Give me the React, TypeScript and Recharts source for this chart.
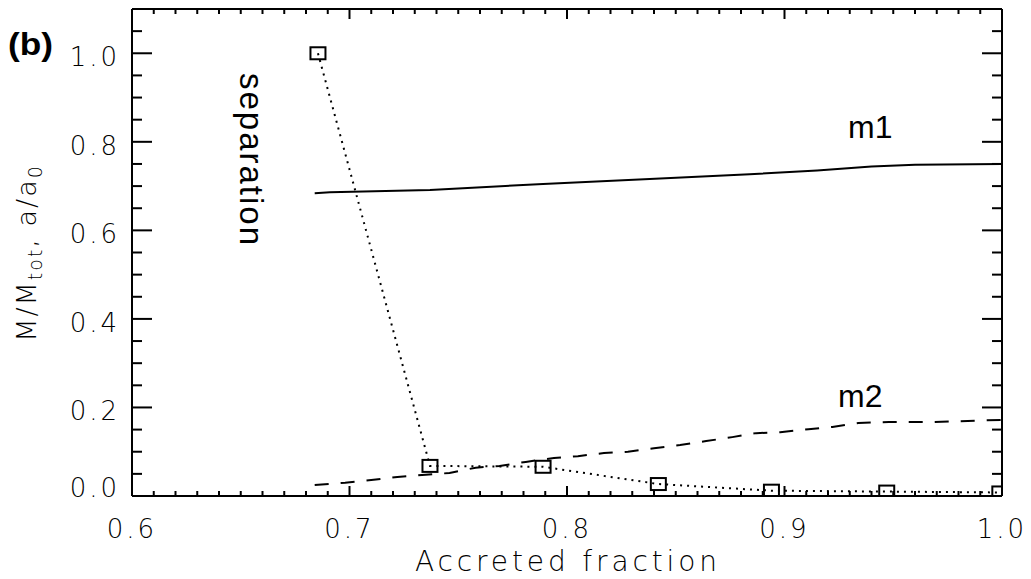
import React from "react";
import { ComposedChart, Line, XAxis, YAxis } from "recharts";

// separation a/a0 (square markers, dotted)
const sepX = [0.6855, 0.737, 0.789, 0.842, 0.894, 0.947, 0.999];
const sepY = [1.0, 0.068, 0.066, 0.027, 0.012, 0.01, 0.008];

// m1 (solid)
const m1X = [0.684, 0.691, 0.737, 0.789, 0.838, 0.884, 0.915, 0.94, 0.96, 1.0];
const m1Y = [0.684, 0.686, 0.691, 0.705, 0.716, 0.727, 0.735, 0.744, 0.748, 0.75];

// m2 (dashed)
const m2X = [
  0.684, 0.698, 0.71, 0.722, 0.735, 0.746, 0.758, 0.769, 0.781, 0.794, 0.805, 0.817, 0.828,
  0.84, 0.852, 0.864, 0.876, 0.887, 0.898, 0.911, 0.922, 0.934, 0.948, 0.969, 1.0,
];
const m2Y = [
  0.025, 0.03, 0.036, 0.043, 0.048, 0.052, 0.064, 0.068, 0.077, 0.086, 0.09, 0.097, 0.1,
  0.108, 0.115, 0.124, 0.133, 0.142, 0.144, 0.151, 0.156, 0.165, 0.167, 0.167, 0.172,
];

const xMajor = [0.6, 0.7, 0.8, 0.9, 1.0];
const xMajorLabels = ["0.6", "0.7", "0.8", "0.9", "1.0"];
const yMajor = [0, 0.2, 0.4, 0.6, 0.8, 1.0];
const yMajorLabels = ["0.0", "0.2", "0.4", "0.6", "0.8", "1.0"];

const sepData = sepX.map((x, i) => ({ x, y: sepY[i] }));
const m1Data = m1X.map((x, i) => ({ x, y: m1Y[i] }));
const m2Data = m2X.map((x, i) => ({ x, y: m2Y[i] }));

const xTicks = Array.from({ length: 41 }, (_, i) => Math.round((0.6 + i * 0.01) * 100) / 100);
const yTicks = Array.from({ length: 23 }, (_, i) => Math.round(i * 0.05 * 100) / 100);

const majorIndex = (v: number, list: number[]) => list.findIndex((m) => Math.abs(m - v) < 1e-6);

const W = 1031;
const H = 579;
// plot box: left 132, right 1002, top 9, bottom 496
const M = { top: 4, right: 9, bottom: 53, left: 72 };
const BOTTOM = 496;

const thin = { fontFamily: "DejaVu Sans", fontWeight: 200, fill: "#000" } as const;
const tickFont = { ...thin, fontSize: 26, letterSpacing: 3 };

const BottomTick = (props: any) => {
  const { x, y, payload } = props;
  const k = majorIndex(payload.value, xMajor);
  return (
    <g>
      <line x1={x} x2={x} y1={y} y2={y - (k >= 0 ? 10 : 5)} stroke="#000" strokeWidth={2} />
      {k >= 0 && (
        <text x={x} y={y + 42} textAnchor="middle" {...tickFont}>
          {xMajorLabels[k]}
        </text>
      )}
    </g>
  );
};

const TopTick = (props: any) => {
  const { x, y, payload } = props;
  const k = majorIndex(payload.value, xMajor);
  return <line x1={x} x2={x} y1={y} y2={y + (k >= 0 ? 10 : 5)} stroke="#000" strokeWidth={2} />;
};

const LeftTick = (props: any) => {
  const { x, y, payload } = props;
  const k = majorIndex(payload.value, yMajor);
  return (
    <g>
      <line x1={x} x2={x + (k >= 0 ? 20 : 10)} y1={y} y2={y} stroke="#000" strokeWidth={2} />
      {k >= 0 && (
        <text x={x - 12} y={Math.min(y + 13, BOTTOM + 1)} textAnchor="end" {...tickFont}>
          {yMajorLabels[k]}
        </text>
      )}
    </g>
  );
};

const RightTick = (props: any) => {
  const { x, y, payload } = props;
  const k = majorIndex(payload.value, yMajor);
  return <line x1={x} x2={x - (k >= 0 ? 20 : 10)} y1={y} y2={y} stroke="#000" strokeWidth={2} />;
};

const Square = (props: any) => {
  const { cx, cy, index } = props;
  return (
    <rect key={`sq-${index}`} x={cx - 7.5} y={cy - 6} width={15} height={12} fill="none" stroke="#000" strokeWidth={2} />
  );
};

export default function App() {
  return (
    <div style={{ position: "absolute", left: 0, top: 0, background: "#fff" }}>
      <ComposedChart width={W} height={H} margin={M}>
        <XAxis
          xAxisId="b"
          dataKey="x"
          type="number"
          domain={[0.6, 1.0]}
          allowDataOverflow
          ticks={xTicks}
          interval={0}
          height={30}
          tickSize={0}
          tickMargin={0}
          tick={<BottomTick />}
          axisLine={{ stroke: "#000", strokeWidth: 2 }}
          tickLine={false}
        />
        <XAxis
          xAxisId="t"
          orientation="top"
          dataKey="x"
          type="number"
          domain={[0.6, 1.0]}
          allowDataOverflow
          ticks={xTicks}
          interval={0}
          height={5}
          tickSize={0}
          tickMargin={0}
          tick={<TopTick />}
          axisLine={{ stroke: "#000", strokeWidth: 2 }}
          tickLine={false}
        />
        <YAxis
          yAxisId="l"
          type="number"
          domain={[0, 1.1]}
          allowDataOverflow
          ticks={yTicks}
          interval={0}
          width={60}
          tickSize={0}
          tickMargin={0}
          tick={<LeftTick />}
          axisLine={{ stroke: "#000", strokeWidth: 2 }}
          tickLine={false}
        />
        <YAxis
          yAxisId="r"
          orientation="right"
          type="number"
          domain={[0, 1.1]}
          allowDataOverflow
          ticks={yTicks}
          interval={0}
          width={20}
          tickSize={0}
          tickMargin={0}
          tick={<RightTick />}
          axisLine={{ stroke: "#000", strokeWidth: 2 }}
          tickLine={false}
        />
        <Line
          xAxisId="b"
          yAxisId="l"
          data={m1Data}
          dataKey="y"
          type="linear"
          stroke="#000"
          strokeWidth={2}
          dot={false}
          activeDot={false}
          isAnimationActive={false}
        />
        <Line
          xAxisId="b"
          yAxisId="l"
          data={m2Data}
          dataKey="y"
          type="linear"
          stroke="#000"
          strokeWidth={2}
          strokeDasharray="14 12"
          dot={false}
          activeDot={false}
          isAnimationActive={false}
        />
        <Line
          xAxisId="b"
          yAxisId="l"
          data={sepData}
          dataKey="y"
          type="linear"
          stroke="#000"
          strokeWidth={2}
          strokeDasharray="2 5"
          dot={<Square />}
          activeDot={false}
          isAnimationActive={false}
        />
        <text x={8} y={55} fontFamily="Liberation Sans" fontWeight="bold" fontSize={31} textLength={45} lengthAdjust="spacingAndGlyphs">
          (b)
        </text>
        <text x={848} y={138} fontFamily="Liberation Sans" fontSize={32}>
          m1
        </text>
        <text x={838} y={407} fontFamily="Liberation Sans" fontSize={32}>
          m2
        </text>
        <text
          transform="translate(240,73) rotate(90)"
          fontFamily="Liberation Sans"
          fontSize={33}
          textLength={172}
          lengthAdjust="spacing"
        >
          separation
        </text>
        <text x={566} y={571} textAnchor="middle" {...thin} fontSize={28} textLength={302} lengthAdjust="spacing">
          Accreted fraction
        </text>
        <text transform="translate(36,253) rotate(-90)" textAnchor="middle" {...thin} fontSize={27} letterSpacing={2}>
          M/M
          <tspan fontSize={19} dy={6}>tot</tspan>
          <tspan dy={-6}>, a/a</tspan>
          <tspan fontSize={19} dy={6}>0</tspan>
        </text>
      </ComposedChart>
    </div>
  );
}
